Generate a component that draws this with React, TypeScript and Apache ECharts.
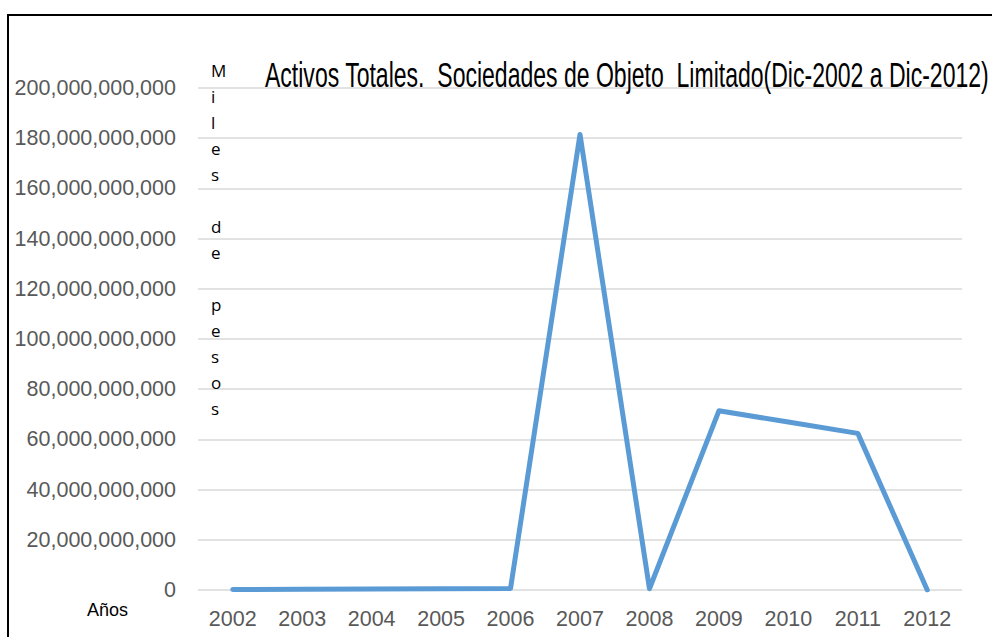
import React, { useEffect, useRef } from "react";
import * as echarts from "echarts";

const years = ["2002", "2003", "2004", "2005", "2006", "2007", "2008", "2009", "2010", "2011", "2012"];
const activos = [
  200000000, 300000000, 400000000, 500000000, 600000000,
  181500000000, 500000000, 71400000000, 66900000000, 62400000000, 0,
];
const titleText = "Activos Totales.  Sociedades de Objeto  Limitado(Dic-2002 a Dic-2012)";
const yAxisName = ["M", "i", "l", "e", "s", "", "d", "e", "", "p", "e", "s", "o", "s"];
const xAxisName = "Años";

function measure(text: string, font: string): number {
  const c = document.createElement("canvas");
  const ctx = c.getContext("2d");
  if (!ctx) return 0;
  ctx.font = font;
  return ctx.measureText(text).width;
}

export default function App() {
  const ref = useRef<HTMLDivElement>(null);
  useEffect(() => {
    document.body.style.margin = "0";
    if (!ref.current) return;
    const chart = echarts.init(ref.current, undefined, { renderer: "svg" });
    const titleFont = "'Liberation Sans Narrow', 'Liberation Sans', Arial, sans-serif";
    const titleSize = 35;
    const w = measure(titleText, `${titleSize}px ${titleFont}`) || 900;
    const targetW = 725;
    const sx = targetW / w;
    chart.setOption({
      animation: false,
      backgroundColor: "#ffffff",
      grid: { left: 198, right: 30, top: 88, bottom: 47, containLabel: false },
      xAxis: {
        type: "category",
        data: years,
        boundaryGap: true,
        axisLine: { show: false },
        axisTick: { show: false },
        axisLabel: {
          color: "#595959",
          fontSize: 21.5,
          fontFamily: "'Liberation Sans', Arial, sans-serif",
          margin: 18,
        },
      },
      yAxis: {
        type: "value",
        min: 0,
        max: 200000000000,
        interval: 20000000000,
        axisLine: { show: false },
        axisTick: { show: false },
        splitLine: { lineStyle: { color: "#d9d9d9", width: 1.5 } },
        axisLabel: {
          color: "#595959",
          fontSize: 21.5,
          fontFamily: "'Liberation Sans', Arial, sans-serif",
          margin: 22,
          formatter: (v: number) => v.toLocaleString("en-US"),
        },
      },
      series: [
        {
          type: "line",
          data: activos,
          symbol: "none",
          lineStyle: { color: "#5b9bd5", width: 5, cap: "round", join: "round" },
          itemStyle: { color: "#5b9bd5" },
        },
      ],
      graphic: [
        {
          type: "rect",
          shape: { x: 8, y: 15, width: 1000, height: 700 },
          style: { fill: "none", stroke: "#000000", lineWidth: 2 },
          silent: true,
          z: 100,
        },
        {
          type: "text",
          x: 265,
          y: 75,
          scaleX: sx,
          style: {
            text: titleText,
            font: `${titleSize}px ${titleFont}`,
            fill: "#000000",
            textAlign: "left",
            verticalAlign: "middle",
          },
          z: 50,
        },
        {
          type: "text",
          x: 211,
          y: 57,
          style: {
            text: yAxisName.join("\n"),
            font: "17px 'Open Sans', 'Liberation Sans', sans-serif",
            lineHeight: 26,
            fill: "#000000",
            textAlign: "left",
            verticalAlign: "top",
          },
          z: 50,
        },
        {
          type: "text",
          x: 87,
          y: 610,
          style: {
            text: xAxisName,
            font: "18px 'Liberation Sans', Arial, sans-serif",
            fill: "#000000",
            textAlign: "left",
            verticalAlign: "middle",
          },
          z: 50,
        },
      ],
    });
    return () => chart.dispose();
  }, []);
  return (
    <div
      ref={ref}
      style={{ position: "absolute", left: 0, top: 0, width: 992, height: 637 }}
    />
  );
}
